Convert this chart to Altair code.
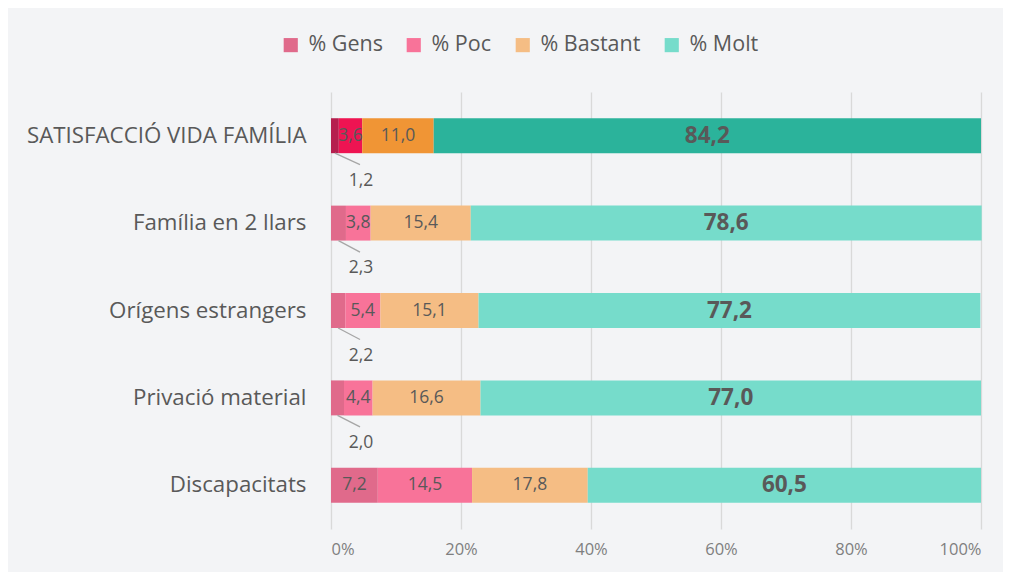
import altair as alt
import pandas as pd

categories = ["SATISFACCIÓ VIDA FAMÍLIA", "Família en 2 llars", "Orígens estrangers",
              "Privació material", "Discapacitats"]
series = ["% Gens", "% Poc", "% Bastant", "% Molt"]
gens = [1.2, 2.3, 2.2, 2.0, 7.2]
poc = [3.6, 3.8, 5.4, 4.4, 14.5]
bastant = [11.0, 15.4, 15.1, 16.6, 17.8]
molt = [84.2, 78.6, 77.2, 77.0, 60.5]
highlight = ["SATISFACCIÓ VIDA FAMÍLIA"]

colors_normal = ["#e06a8b", "#f87399", "#f5bd84", "#76dccb"]
colors_high = ["#b51f4e", "#ee1452", "#f09535", "#2bb39b"]

rows = []
for i, c in enumerate(categories):
    for j, (s, vals) in enumerate(zip(series, [gens, poc, bastant, molt])):
        rows.append({"cat": c, "series": s, "order": j, "value": vals[i],
                     "hl": c in highlight})
df = pd.DataFrame(rows)

FONT = "Open Sans"
TXT = "#595959"

base = alt.Chart(df).transform_stack(
    stack="value", as_=["x0", "x1"], groupby=["cat"], sort=[{"field": "order"}]
).transform_calculate(
    mid="(datum.x0 + datum.x1) / 2",
    lbl="replace(format(datum.value, '.1f'), '.', ',')"
)

xscale = alt.Scale(domain=[0, 100], nice=False)
ysc = alt.Scale(paddingInner=0.6, paddingOuter=0.3)
yenc = alt.Y("cat:N", sort=categories, scale=ysc, title=None,
             axis=alt.Axis(labelFontSize=22.3, labelColor=TXT, labelFont=FONT,
                           labelLimit=0, ticks=False, domain=False,
                           labelPadding=25, grid=False))
xaxis = alt.Axis(values=[0, 20, 40, 60, 80, 100], labelExpr="datum.value + '%'",
                 labelFontSize=16.5, labelColor="#7f7f7f", labelFont=FONT,
                 ticks=False, domain=False, grid=True, gridColor="#d9d9d9",
                 gridWidth=1.3, labelPadding=12, title=None)

bars_normal = base.transform_filter("!datum.hl").mark_bar().encode(
    x=alt.X("x0:Q", scale=xscale, axis=xaxis),
    x2="x1:Q",
    y=yenc,
    color=alt.Color("series:N", sort=series,
                    scale=alt.Scale(domain=series, range=colors_normal),
                    legend=alt.Legend(orient="none", direction="horizontal",
                                      legendX=-51, legendY=-58, title=None,
                                      symbolType="square", symbolSize=200,
                                      symbolStrokeWidth=0, labelFontSize=21.5,
                                      labelFont=FONT, labelColor=TXT,
                                      columnPadding=20, labelOffset=7)),
)

bars_high = base.transform_filter("datum.hl").mark_bar().encode(
    x=alt.X("x0:Q", scale=xscale, axis=xaxis),
    x2="x1:Q",
    y=yenc,
    color=alt.Color("series:N", sort=series,
                    scale=alt.Scale(domain=series, range=colors_high),
                    legend=None),
)

text_in = base.transform_filter("datum.value >= 3 && datum.order < 3").mark_text(
    fontSize=17.5, font=FONT, color=TXT, baseline="middle"
).encode(x="mid:Q", y=alt.Y("cat:N", sort=categories, scale=ysc), text="lbl:N")

text_molt = base.transform_filter("datum.order == 3").mark_text(
    fontSize=22.5, font=FONT, fontWeight="bold", color=TXT, baseline="middle"
).encode(x="mid:Q", y=alt.Y("cat:N", sort=categories, scale=ysc), text="lbl:N")

text_out = base.transform_filter("datum.value < 3 && datum.order == 0").mark_text(
    fontSize=17.5, font=FONT, color=TXT, baseline="middle", dx=30, dy=45
).encode(x="x0:Q", y=alt.Y("cat:N", sort=categories, scale=ysc), text="lbl:N")

leader = base.transform_filter("datum.value < 3 && datum.order == 0").mark_rule(
    color="#a6a6a6", strokeWidth=1.3, yOffset=17.5, y2Offset=29, x2Offset=29
).encode(x="mid:Q", x2="x0:Q",
         y=alt.Y("cat:N", sort=categories, scale=ysc), y2="cat:N")

chart = alt.layer(bars_normal, bars_high, leader, text_in, text_molt, text_out).resolve_scale(
    color="independent"
).properties(
    width=650, height=437,
    autosize=alt.AutoSizeParams(type="none"),
    padding={"left": 323, "top": 84, "right": 22, "bottom": 43},
    background="#f3f4f6",
).configure_view(stroke=None)

chart.save("out.html", embed_options={"renderer": "svg", "actions": False})
